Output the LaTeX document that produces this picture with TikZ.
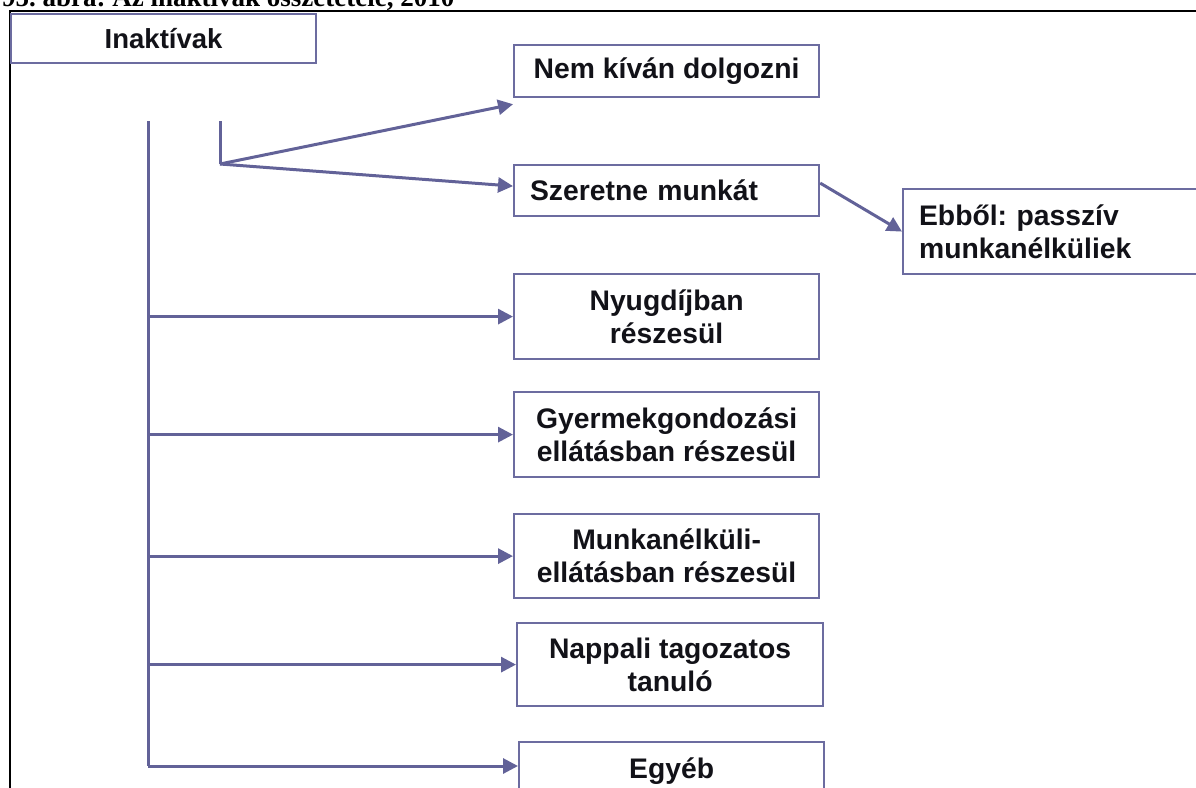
\documentclass[tikz,border=0pt]{standalone}
\usepackage{fontspec}
\setmainfont{Liberation Sans}
\newfontfamily\titlefont{Liberation Serif}
\usetikzlibrary{arrows.meta}
\definecolor{boxc}{RGB}{108,108,160}
\definecolor{linec}{RGB}{98,98,152}
\definecolor{txt}{RGB}{18,18,24}
\frenchspacing
\tikzset{
  px/.style={x=1pt,y=-1pt},
  box/.style={draw=boxc, line width=2.2pt, fill=white, inner sep=0pt, anchor=north west,
    font=\bfseries\fontsize{28.3}{33}\selectfont, text=txt, align=center,
    minimum width=305pt},
  leftbox/.style={box, align=left, inner xsep=16pt, text width=273pt},
  conn/.style={draw=linec, line width=3pt},
  arr/.style={conn, -{Triangle[length=15pt,width=15pt]}},
  frame/.style={draw=black, line width=2pt}
}
\begin{document}
\begin{tikzpicture}[px]
\useasboundingbox (0,0) rectangle (1196,787);
% cut-off title
\node[anchor=base west, inner sep=0pt, font=\titlefont\bfseries\fontsize{27}{30}\selectfont] (title) at (2,6) {95. ábra: Az inaktívak összetétele, 2010};
% frame
\coordinate (ftl) at (10,11);
\coordinate (ftr) at (1200,11);
\coordinate (fbl) at (10,792);
\draw[frame] (ftr) -- (ftl) -- (fbl);
% boxes
\node[box, minimum width=305pt, minimum height=49pt, font=\bfseries\fontsize{27.5}{32}\selectfont] (inak) at (10,13) {Inaktívak};
\node[box, minimum height=52pt] (nem) at (513,44) {Nem kíván dolgozni};
\node[leftbox, minimum height=51pt] (sze) at (513,164) {Szeretne munkát};
\node[leftbox, minimum height=85pt, text width=300pt] (ebb) at (902,188) {Ebből: passzív\\munkanélküliek};
\node[box, minimum height=85pt] (nyu) at (513,273) {Nyugdíjban\\részesül};
\node[box, minimum height=85pt] (gye) at (513,391) {Gyermekgondozási\\ellátásban részesül};
\node[box, minimum height=84pt] (mun) at (513,513) {Munkanélküli-\\ellátásban részesül};
\node[box, minimum height=83pt, minimum width=306pt] (nap) at (516,622) {Nappali tagozatos\\tanuló};
\node[box, text height=22pt, text depth=35pt, inner ysep=14pt] (egy) at (518,741) {Egyéb};
% connectors
\coordinate (vtop) at (148,121);
\coordinate (vbot) at (148,766);
\coordinate (ftop) at (220,121);
\coordinate (fork) at (220,164);
\draw[conn] (vtop) -- (vbot);
\draw[conn] (ftop) -- (fork);
\draw[arr] (fork) -- ([yshift=-6pt]nem.south west);
\draw[arr] (fork) -- ([yshift=4.5pt]sze.west);
\draw[arr] ([yshift=7.5pt]sze.east) -- (ebb.west);
\draw[arr] (vtop |- nyu.west) -- (nyu.west);
\draw[arr] (vtop |- gye.west) -- (gye.west);
\draw[arr] (vtop |- mun.west) -- (mun.west);
\draw[arr] (vtop |- nap.west) -- (nap.west);
\draw[arr] (vbot) -- (vbot -| egy.west);
\end{tikzpicture}
\end{document}
